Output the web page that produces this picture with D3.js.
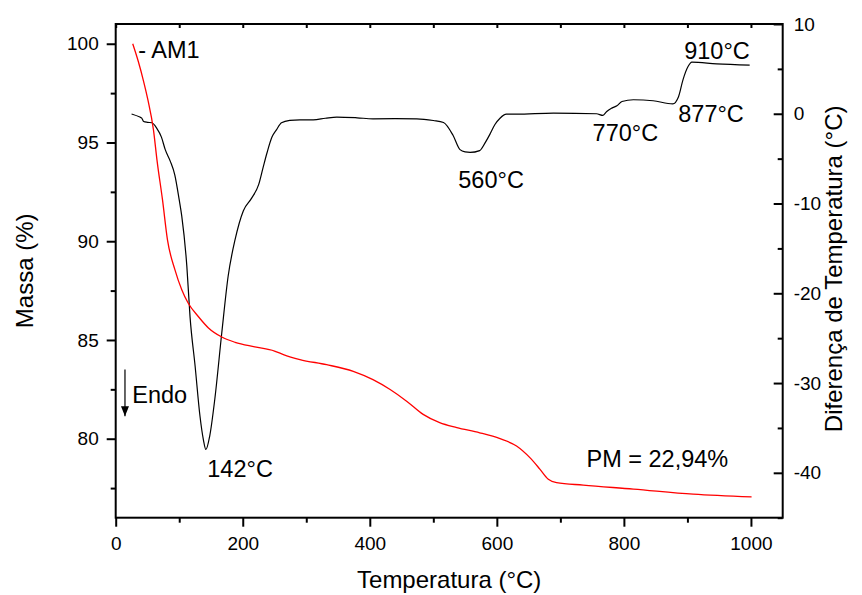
<!DOCTYPE html>
<html>
<head>
<meta charset="utf-8">
<script src="https://cdn.jsdelivr.net/npm/d3@7"></script>
<style>
  body { margin: 0; background: #fff; }
  text { font-family: "Liberation Sans", Arial, sans-serif; fill: #000; }
</style>
</head>
<body>
<svg id="chart" width="862" height="595"></svg>
<script>
// TG curve: temperature (°C), mass (%)
const tgTemp = [26.8, 35.6, 43.5, 50.8, 59.5, 65, 73.7, 81.5, 93.3, 104, 114, 130, 146, 167, 188, 219, 250,
  264, 290, 332, 374, 405, 432, 458, 484, 510, 537, 573, 605, 631, 652, 668, 681, 694, 736, 815, 909, 1001];
const tgMass = [100.0, 99.1, 98.15, 97.14, 95.63, 94.11, 92.09, 90.07, 88.55, 87.54, 86.87, 86.19, 85.61,
  85.15, 84.88, 84.65, 84.44, 84.26, 84.01, 83.75, 83.41, 82.99, 82.49, 81.9, 81.23, 80.81, 80.56, 80.3, 80.0,
  79.63, 79.04, 78.45, 77.95, 77.78, 77.65, 77.45, 77.19, 77.05];

// DTA curve: temperature (°C), temperature difference (°C)
const dtaTemp = [25, 38, 41, 44, 50, 57, 64.5, 72, 78, 86, 93, 100, 104, 112, 117, 125, 132.7, 138, 142, 148, 156,
  167, 177, 188, 201, 214, 225, 232, 238, 246, 253, 261, 274, 290, 311, 330, 348, 380, 405, 440, 474, 500, 516,
  531, 542, 550, 558, 573, 581, 589, 597, 605, 615, 631, 689, 757, 767, 773, 781, 789, 797, 815, 846, 877, 886,
  893, 901, 907, 946, 998];
const dtaDiff = [-0.03, -0.37, -0.48, -0.86, -0.95, -1.0, -1.6, -2.6, -4.0, -5.3, -6.8, -9.6, -11.4, -17.0, -22.6,
  -28.1, -33.7, -36.3, -37.4, -35.9, -31.8, -24.4, -18.1, -14.0, -10.8, -9.4, -7.9, -6.0, -4.4, -2.6, -1.8, -1.0,
  -0.74, -0.67, -0.67, -0.5, -0.37, -0.45, -0.56, -0.55, -0.56, -0.75, -0.97, -2.4, -4.0, -4.25, -4.3, -4.1, -3.3,
  -2.3, -1.2, -0.5, -0.05, -0.05, 0.07, 0.0, -0.18, 0.26, 0.63, 0.89, 1.37, 1.56, 1.45, 1.1, 1.9, 3.78, 5.26,
  5.75, 5.56, 5.42];

const xTicks = [0, 200, 400, 600, 800, 1000];
const xMinor = [100, 300, 500, 700, 900];
const massTicks = [80, 85, 90, 95, 100];
const massMinor = [77.5, 82.5, 87.5, 92.5, 97.5];
const diffTicks = [-40, -30, -20, -10, 0, 10];
const diffMinor = [-45, -35, -25, -15, -5, 5];

// annotation labels, placed in (temperature, temperature difference) units
const notes = [
  {text: '- AM1', t: 35.6, v: 6.23, anchor: 'start'},
  {text: '142°C', t: 144.2, v: -40.5, anchor: 'start'},
  {text: '560°C', t: 539.3, v: -8.27, anchor: 'start'},
  {text: '770°C', t: 750.8, v: -3.08, anchor: 'start'},
  {text: '877°C', t: 885.6, v: -0.89, anchor: 'start'},
  {text: '910°C', t: 895, v: 6.09, anchor: 'start'},
  {text: 'PM = 22,94%', t: 964.3, v: -39.3, anchor: 'end'},
  {text: 'Endo', t: 26.1, v: -32.2, anchor: 'start'}
];

const svg = d3.select('#chart'),
    margin = {top: 24, right: 79.3, bottom: 77.3, left: 115.7},
    width = +svg.attr('width') - margin.left - margin.right,
    height = +svg.attr('height') - margin.top - margin.bottom,
    g = svg.append('g').attr('transform', `translate(${margin.left},${margin.top})`);

const x = d3.scaleLinear().domain([0, 1050]).range([0, width]);
const yMass = d3.scaleLinear().domain([76, 101]).range([height, 0]);
const yDiff = d3.scaleLinear().domain([-45, 10]).range([height, 0]);

const plain = d => String(d);

function styleAxis(sel) {
  sel.select('.domain').remove();
  sel.selectAll('line').attr('stroke', '#000').attr('stroke-width', 2);
  sel.selectAll('text').style('font-size', '19px').attr('fill', '#000');
}

// bottom
g.append('g').attr('transform', `translate(0,${height})`)
    .call(d3.axisBottom(x).tickValues(xTicks).tickFormat(plain).tickSize(9).tickPadding(10).tickSizeOuter(0))
    .call(styleAxis);
g.append('g').attr('transform', `translate(0,${height})`)
    .call(d3.axisBottom(x).tickValues(xMinor).tickSize(5).tickFormat('').tickSizeOuter(0))
    .call(styleAxis);
// top
g.append('g')
    .call(d3.axisTop(x).tickValues(xTicks.concat(xMinor)).tickSize(-4).tickFormat('').tickSizeOuter(0))
    .call(styleAxis);
// left
g.append('g')
    .call(d3.axisLeft(yMass).tickValues(massTicks).tickFormat(plain).tickSize(9).tickPadding(8).tickSizeOuter(0))
    .call(styleAxis);
g.append('g')
    .call(d3.axisLeft(yMass).tickValues(massMinor).tickSize(5).tickFormat('').tickSizeOuter(0))
    .call(styleAxis);
// right
g.append('g').attr('transform', `translate(${width},0)`)
    .call(d3.axisRight(yDiff).tickValues(diffTicks).tickFormat(plain).tickSizeInner(-9).tickPadding(11)
        .tickSizeOuter(0))
    .call(styleAxis);
g.append('g').attr('transform', `translate(${width},0)`)
    .call(d3.axisRight(yDiff).tickValues(diffMinor).tickSizeInner(-5).tickFormat('').tickSizeOuter(0))
    .call(styleAxis);

g.append('rect')
    .attr('width', width)
    .attr('height', height)
    .attr('fill', 'none')
    .attr('stroke', '#000')
    .attr('stroke-width', 2);

// curves
const dta = dtaTemp.map((t, i) => [t, dtaDiff[i]]);
const tg = tgTemp.map((t, i) => [t, tgMass[i]]);

g.append('path')
    .datum(dta)
    .attr('fill', 'none')
    .attr('stroke', '#000')
    .attr('stroke-width', 1.2)
    .attr('d', d3.line().x(d => x(d[0])).y(d => yDiff(d[1])).curve(d3.curveMonotoneX));

g.append('path')
    .datum(tg)
    .attr('fill', 'none')
    .attr('stroke', '#ff0000')
    .attr('stroke-width', 1.3)
    .attr('d', d3.line().x(d => x(d[0])).y(d => yMass(d[1])).curve(d3.curveMonotoneX));

// annotations
g.selectAll('.note')
    .data(notes)
    .enter().append('text')
    .attr('class', 'note')
    .attr('x', d => x(d.t))
    .attr('y', d => yDiff(d.v))
    .attr('text-anchor', d => d.anchor)
    .style('font-size', '23.5px')
    .text(d => d.text);

// endo arrow
svg.append('defs').append('marker')
    .attr('id', 'head')
    .attr('viewBox', '0 0 10 10')
    .attr('refX', 10).attr('refY', 5)
    .attr('markerWidth', 10).attr('markerHeight', 10)
    .attr('markerUnits', 'userSpaceOnUse')
    .attr('orient', 'auto')
    .append('path').attr('d', 'M0,1L10,5L0,9Z').attr('fill', '#000');
g.append('line')
    .attr('x1', x(14.6)).attr('x2', x(14.6))
    .attr('y1', yDiff(-28.5)).attr('y2', yDiff(-33.7))
    .attr('stroke', '#000')
    .attr('stroke-width', 1.2)
    .attr('marker-end', 'url(#head)');

// axis titles
svg.append('text')
    .attr('x', margin.left + width / 2)
    .attr('y', 588)
    .attr('text-anchor', 'middle')
    .style('font-size', '24px')
    .text('Temperatura (°C)');
svg.append('text')
    .attr('transform', `translate(33,${margin.top + height / 2}) rotate(-90)`)
    .attr('text-anchor', 'middle')
    .style('font-size', '24px')
    .text('Massa (%)');
svg.append('text')
    .attr('transform', `translate(842,${margin.top + height / 2 - 2}) rotate(-90)`)
    .attr('text-anchor', 'middle')
    .style('font-size', '24px')
    .text('Diferença de Temperatura (°C)');
</script>
</body>
</html>
